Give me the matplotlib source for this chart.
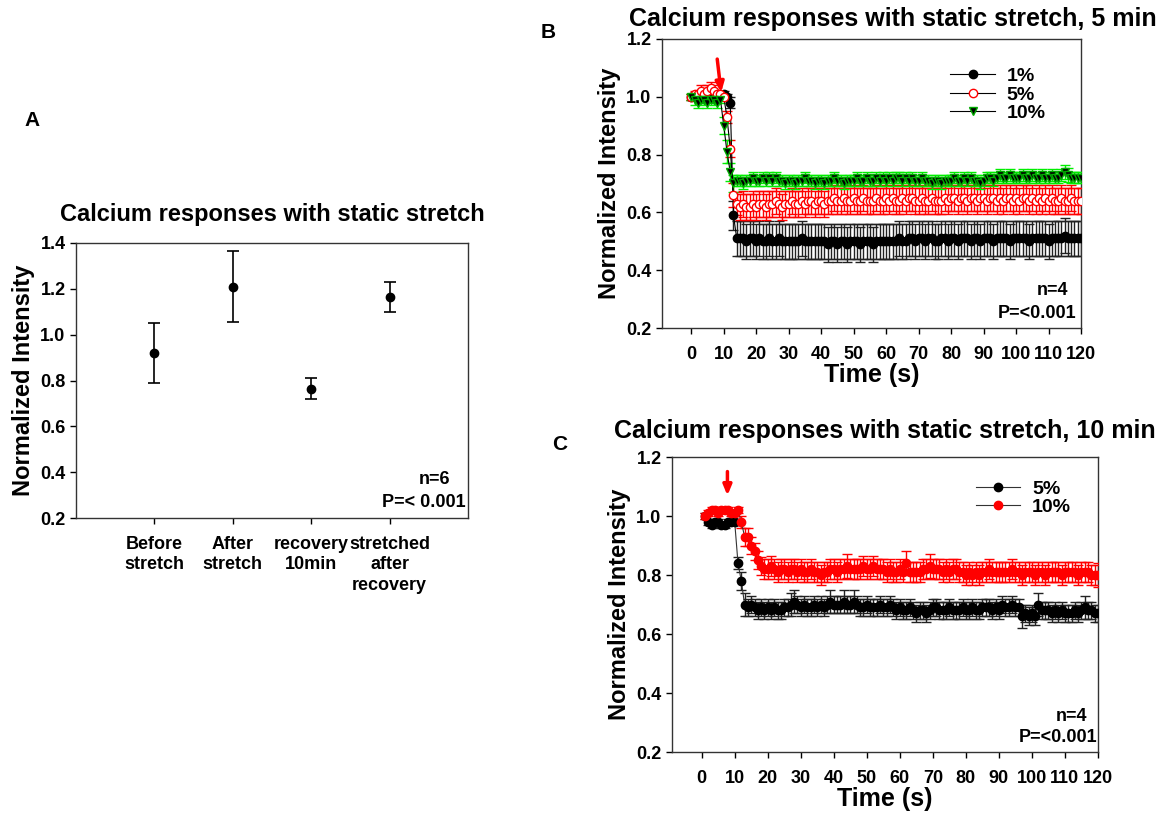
import numpy as np
import matplotlib
matplotlib.use('Agg')
import matplotlib.pyplot as plt

plt.rcParams['font.family'] = ['Liberation Sans', 'DejaVu Sans']
plt.rcParams['font.weight'] = 'bold'
plt.rcParams['axes.labelweight'] = 'bold'
plt.rcParams['axes.titleweight'] = 'bold'

# ---- panel A data ----
a_labels = ['Before\nstretch', 'After\nstretch', 'recovery\n10min', 'stretched\nafter\nrecovery']
a_mean = [0.92, 1.21, 0.765, 1.163]
a_err = [0.13, 0.155, 0.047, 0.065]

# ---- panel B data (5 min static stretch), t = 0..120 s ----
b_time = np.arange(0, 121)
b_1pct = [1.00, 1.00, 1.01, 1.00, 1.01, 1.01, 1.00, 1.01, 1.01, 1.00,
          1.01, 1.00, 0.98, 0.59, 0.51, 0.51, 0.51, 0.50, 0.51, 0.51,
          0.50, 0.51, 0.50, 0.50, 0.51, 0.50, 0.50, 0.51, 0.50, 0.50,
          0.50, 0.50, 0.50, 0.50, 0.51, 0.50, 0.50, 0.50, 0.50, 0.50,
          0.50, 0.50, 0.49, 0.50, 0.50, 0.49, 0.50, 0.50, 0.49, 0.50,
          0.50, 0.50, 0.49, 0.50, 0.50, 0.50, 0.49, 0.50, 0.50, 0.50,
          0.50, 0.50, 0.50, 0.50, 0.51, 0.50, 0.50, 0.51, 0.51, 0.50,
          0.51, 0.51, 0.50, 0.51, 0.51, 0.50, 0.50, 0.51, 0.51, 0.50,
          0.51, 0.51, 0.50, 0.51, 0.51, 0.51, 0.50, 0.51, 0.51, 0.50,
          0.51, 0.51, 0.51, 0.50, 0.51, 0.51, 0.51, 0.51, 0.50, 0.51,
          0.51, 0.51, 0.51, 0.51, 0.50, 0.51, 0.51, 0.51, 0.51, 0.51,
          0.50, 0.51, 0.51, 0.51, 0.51, 0.52, 0.51, 0.51, 0.51, 0.51,
          0.51]
b_1pct_err = [0.01, 0.01, 0.01, 0.01, 0.01, 0.01, 0.01, 0.01, 0.01, 0.01,
              0.01, 0.01, 0.02, 0.05, 0.06, 0.06, 0.06, 0.06, 0.06, 0.06,
              0.06, 0.06, 0.06, 0.06, 0.06, 0.06, 0.06, 0.06, 0.06, 0.06,
              0.06, 0.06, 0.06, 0.06, 0.06, 0.06, 0.06, 0.06, 0.06, 0.06,
              0.06, 0.06, 0.06, 0.06, 0.06, 0.06, 0.06, 0.06, 0.06, 0.06,
              0.06, 0.06, 0.06, 0.06, 0.06, 0.06, 0.06, 0.06, 0.06, 0.06,
              0.06, 0.06, 0.06, 0.06, 0.06, 0.06, 0.06, 0.06, 0.06, 0.06,
              0.06, 0.06, 0.06, 0.06, 0.06, 0.06, 0.06, 0.06, 0.06, 0.06,
              0.06, 0.06, 0.06, 0.06, 0.06, 0.06, 0.06, 0.06, 0.06, 0.06,
              0.06, 0.06, 0.06, 0.06, 0.06, 0.06, 0.06, 0.06, 0.06, 0.06,
              0.06, 0.06, 0.06, 0.06, 0.06, 0.06, 0.06, 0.06, 0.06, 0.06,
              0.06, 0.06, 0.06, 0.06, 0.06, 0.06, 0.06, 0.06, 0.06, 0.06,
              0.06]
b_5pct = [1.00, 1.01, 1.01, 1.02, 1.01, 1.02, 1.03, 1.02, 1.01, 1.01,
          1.00, 0.93, 0.82, 0.66, 0.63, 0.62, 0.63, 0.62, 0.62, 0.63,
          0.62, 0.63, 0.63, 0.62, 0.63, 0.63, 0.64, 0.63, 0.62, 0.63,
          0.63, 0.64, 0.63, 0.63, 0.64, 0.63, 0.64, 0.64, 0.63, 0.64,
          0.64, 0.63, 0.64, 0.64, 0.65, 0.64, 0.64, 0.65, 0.64, 0.64,
          0.65, 0.64, 0.64, 0.65, 0.64, 0.64, 0.64, 0.65, 0.64, 0.64,
          0.65, 0.64, 0.65, 0.64, 0.64, 0.65, 0.64, 0.65, 0.65, 0.64,
          0.64, 0.65, 0.64, 0.64, 0.65, 0.64, 0.64, 0.64, 0.65, 0.64,
          0.65, 0.65, 0.64, 0.65, 0.65, 0.64, 0.65, 0.65, 0.64, 0.65,
          0.65, 0.64, 0.65, 0.65, 0.64, 0.65, 0.64, 0.65, 0.65, 0.64,
          0.65, 0.64, 0.65, 0.65, 0.64, 0.65, 0.64, 0.65, 0.64, 0.65,
          0.64, 0.65, 0.64, 0.64, 0.65, 0.64, 0.64, 0.65, 0.64, 0.64,
          0.64]
b_5pct_err = [0.01, 0.01, 0.01, 0.02, 0.01, 0.02, 0.02, 0.02, 0.01, 0.01,
              0.01, 0.02, 0.03, 0.04, 0.04, 0.045, 0.045, 0.045, 0.045, 0.045,
              0.045, 0.045, 0.045, 0.045, 0.045, 0.045, 0.045, 0.045, 0.045, 0.045,
              0.045, 0.045, 0.045, 0.045, 0.045, 0.045, 0.045, 0.045, 0.045, 0.045,
              0.045, 0.045, 0.045, 0.045, 0.045, 0.045, 0.045, 0.045, 0.045, 0.045,
              0.045, 0.045, 0.045, 0.045, 0.045, 0.045, 0.045, 0.045, 0.045, 0.045,
              0.045, 0.045, 0.045, 0.045, 0.045, 0.045, 0.045, 0.045, 0.045, 0.045,
              0.045, 0.045, 0.045, 0.045, 0.045, 0.045, 0.045, 0.045, 0.045, 0.045,
              0.045, 0.045, 0.045, 0.045, 0.045, 0.045, 0.045, 0.045, 0.045, 0.045,
              0.045, 0.045, 0.045, 0.045, 0.045, 0.045, 0.045, 0.045, 0.045, 0.045,
              0.045, 0.045, 0.045, 0.045, 0.045, 0.045, 0.045, 0.045, 0.045, 0.045,
              0.045, 0.045, 0.045, 0.045, 0.045, 0.045, 0.045, 0.045, 0.045, 0.045,
              0.045]
b_10pct = [1.00, 0.99, 0.98, 0.99, 0.99, 0.98, 0.99, 0.99, 0.98, 0.99,
           0.90, 0.81, 0.74, 0.70, 0.71, 0.71, 0.70, 0.71, 0.71, 0.72,
           0.71, 0.71, 0.72, 0.71, 0.72, 0.71, 0.72, 0.71, 0.71, 0.70,
           0.71, 0.71, 0.70, 0.71, 0.71, 0.72, 0.71, 0.71, 0.70, 0.71,
           0.71, 0.70, 0.71, 0.71, 0.72, 0.71, 0.71, 0.70, 0.71, 0.71,
           0.71, 0.72, 0.71, 0.71, 0.72, 0.71, 0.71, 0.72, 0.71, 0.72,
           0.71, 0.72, 0.71, 0.72, 0.72, 0.71, 0.72, 0.71, 0.72, 0.71,
           0.71, 0.72, 0.71, 0.71, 0.70, 0.71, 0.71, 0.70, 0.71, 0.71,
           0.71, 0.72, 0.71, 0.71, 0.72, 0.71, 0.72, 0.71, 0.71, 0.70,
           0.71, 0.72, 0.72, 0.71, 0.72, 0.73, 0.72, 0.72, 0.73, 0.72,
           0.72, 0.72, 0.73, 0.72, 0.72, 0.73, 0.72, 0.72, 0.73, 0.72,
           0.72, 0.73, 0.72, 0.72, 0.73, 0.74, 0.73, 0.72, 0.72, 0.72,
           0.72]
b_10pct_err = [0.01, 0.02, 0.02, 0.01, 0.02, 0.02, 0.01, 0.02, 0.02, 0.01,
               0.03, 0.04, 0.03, 0.03, 0.02, 0.02, 0.02, 0.02, 0.02, 0.02,
               0.02, 0.02, 0.02, 0.02, 0.02, 0.02, 0.02, 0.02, 0.02, 0.02,
               0.02, 0.02, 0.02, 0.02, 0.02, 0.02, 0.02, 0.02, 0.02, 0.02,
               0.02, 0.02, 0.02, 0.02, 0.02, 0.02, 0.02, 0.02, 0.02, 0.02,
               0.02, 0.02, 0.02, 0.02, 0.02, 0.02, 0.02, 0.02, 0.02, 0.02,
               0.02, 0.02, 0.02, 0.02, 0.02, 0.02, 0.02, 0.02, 0.02, 0.02,
               0.02, 0.02, 0.02, 0.02, 0.02, 0.02, 0.02, 0.02, 0.02, 0.02,
               0.02, 0.02, 0.02, 0.02, 0.02, 0.02, 0.02, 0.02, 0.02, 0.02,
               0.02, 0.02, 0.02, 0.02, 0.02, 0.02, 0.02, 0.02, 0.02, 0.02,
               0.02, 0.02, 0.02, 0.02, 0.02, 0.02, 0.02, 0.02, 0.02, 0.02,
               0.02, 0.02, 0.02, 0.02, 0.02, 0.025, 0.025, 0.02, 0.02, 0.02,
               0.02]

# ---- panel C data (10 min static stretch), t = 1..120 s ----
c_time = np.arange(1, 121)
c_5pct = [1.00, 0.98, 0.97, 0.98, 0.98, 0.97, 0.97, 0.98, 0.98, 0.98,
          0.84, 0.78, 0.70, 0.69, 0.70, 0.69, 0.68, 0.69, 0.68, 0.69,
          0.68, 0.69, 0.68, 0.68, 0.69, 0.69, 0.70, 0.71, 0.70, 0.69,
          0.70, 0.69, 0.69, 0.70, 0.69, 0.70, 0.69, 0.70, 0.71, 0.70,
          0.70, 0.70, 0.71, 0.70, 0.70, 0.71, 0.70, 0.69, 0.69, 0.70,
          0.69, 0.69, 0.69, 0.70, 0.69, 0.69, 0.70, 0.69, 0.68, 0.69,
          0.68, 0.68, 0.69, 0.68, 0.67, 0.68, 0.68, 0.67, 0.68, 0.69,
          0.69, 0.68, 0.68, 0.68, 0.69, 0.68, 0.68, 0.68, 0.69, 0.68,
          0.68, 0.69, 0.68, 0.68, 0.69, 0.69, 0.69, 0.68, 0.69, 0.68,
          0.70, 0.69, 0.69, 0.70, 0.69, 0.69, 0.66, 0.67, 0.66, 0.67,
          0.66, 0.70, 0.68, 0.68, 0.68, 0.67, 0.68, 0.67, 0.68, 0.67,
          0.67, 0.67, 0.68, 0.67, 0.68, 0.69, 0.68, 0.68, 0.67, 0.67]
c_5pct_err = [0.01, 0.01, 0.01, 0.01, 0.01, 0.01, 0.01, 0.01, 0.01, 0.01,
              0.02, 0.03, 0.04, 0.03, 0.03, 0.03, 0.03, 0.03, 0.03, 0.03,
              0.03, 0.03, 0.03, 0.03, 0.03, 0.03, 0.04, 0.04, 0.03, 0.03,
              0.03, 0.03, 0.03, 0.03, 0.03, 0.03, 0.03, 0.03, 0.04, 0.03,
              0.03, 0.03, 0.04, 0.03, 0.03, 0.04, 0.03, 0.03, 0.03, 0.03,
              0.03, 0.03, 0.03, 0.03, 0.03, 0.03, 0.03, 0.03, 0.03, 0.03,
              0.03, 0.03, 0.03, 0.03, 0.03, 0.03, 0.03, 0.03, 0.03, 0.03,
              0.03, 0.03, 0.03, 0.03, 0.03, 0.03, 0.03, 0.03, 0.03, 0.03,
              0.03, 0.03, 0.03, 0.03, 0.03, 0.03, 0.03, 0.03, 0.03, 0.03,
              0.03, 0.03, 0.03, 0.03, 0.03, 0.03, 0.04, 0.03, 0.03, 0.03,
              0.03, 0.04, 0.03, 0.03, 0.03, 0.03, 0.03, 0.03, 0.03, 0.03,
              0.03, 0.03, 0.03, 0.03, 0.03, 0.04, 0.03, 0.03, 0.03, 0.03]
c_10pct = [1.00, 1.01, 1.02, 1.02, 1.01, 1.02, 1.02, 1.02, 1.01, 1.01,
           1.02, 0.98, 0.93, 0.93, 0.90, 0.88, 0.85, 0.83, 0.82, 0.82,
           0.83, 0.82, 0.81, 0.82, 0.82, 0.81, 0.82, 0.82, 0.81, 0.82,
           0.81, 0.81, 0.82, 0.81, 0.81, 0.80, 0.81, 0.81, 0.82, 0.82,
           0.81, 0.82, 0.82, 0.83, 0.82, 0.82, 0.82, 0.82, 0.83, 0.82,
           0.82, 0.83, 0.82, 0.82, 0.82, 0.81, 0.82, 0.81, 0.81, 0.82,
           0.81, 0.84, 0.81, 0.81, 0.81, 0.81, 0.82, 0.82, 0.83, 0.82,
           0.82, 0.82, 0.81, 0.82, 0.81, 0.82, 0.82, 0.81, 0.81, 0.80,
           0.81, 0.80, 0.81, 0.80, 0.81, 0.81, 0.82, 0.81, 0.81, 0.81,
           0.81, 0.81, 0.81, 0.82, 0.81, 0.81, 0.80, 0.81, 0.81, 0.81,
           0.80, 0.81, 0.81, 0.80, 0.81, 0.81, 0.81, 0.81, 0.80, 0.81,
           0.81, 0.81, 0.81, 0.80, 0.81, 0.81, 0.81, 0.80, 0.80, 0.80]
c_10pct_err = [0.01, 0.01, 0.01, 0.01, 0.01, 0.01, 0.01, 0.01, 0.01, 0.01,
               0.01, 0.02, 0.03, 0.03, 0.03, 0.03, 0.03, 0.03, 0.035, 0.035,
               0.035, 0.035, 0.035, 0.035, 0.035, 0.035, 0.035, 0.035, 0.035, 0.035,
               0.035, 0.035, 0.035, 0.035, 0.035, 0.035, 0.035, 0.035, 0.035, 0.035,
               0.035, 0.035, 0.035, 0.04, 0.035, 0.035, 0.035, 0.035, 0.035, 0.035,
               0.035, 0.035, 0.035, 0.035, 0.035, 0.035, 0.035, 0.035, 0.035, 0.035,
               0.035, 0.04, 0.035, 0.035, 0.035, 0.035, 0.035, 0.035, 0.04, 0.035,
               0.035, 0.035, 0.035, 0.035, 0.035, 0.035, 0.035, 0.035, 0.035, 0.035,
               0.035, 0.035, 0.035, 0.035, 0.035, 0.035, 0.035, 0.035, 0.035, 0.035,
               0.035, 0.035, 0.035, 0.035, 0.035, 0.035, 0.035, 0.035, 0.035, 0.035,
               0.035, 0.035, 0.035, 0.035, 0.035, 0.035, 0.035, 0.035, 0.035, 0.035,
               0.035, 0.035, 0.035, 0.035, 0.035, 0.035, 0.035, 0.035, 0.035, 0.04]

time_ticks = np.arange(0, 121, 10)


def style_axes(ax):
    for s in ax.spines.values():
        s.set_linewidth(1.0)
        s.set_color('#333333')
    ax.tick_params(direction='out', length=4, width=1, labelsize=13,
                   top=False, right=False)


fig = plt.figure(figsize=(11.68, 8.19), dpi=100)

# ---------------- A ----------------
axA = fig.add_axes([0.0651, 0.3675, 0.3356, 0.3358])
axA.errorbar(range(1, 5), a_mean, yerr=a_err, fmt='o', color='black',
             ms=6, capsize=4, elinewidth=1.2, capthick=1.2)
axA.set_xlim(0, 5)
axA.set_ylim(0.2, 1.4)
axA.set_yticks(np.arange(0.2, 1.41, 0.2))
axA.set_yticklabels(['%.1f' % v for v in np.arange(0.2, 1.41, 0.2)])
axA.set_xticks(range(1, 5))
style_axes(axA)
axA.set_xticklabels(a_labels, fontsize=13, linespacing=1.25)
axA.tick_params(axis='x', pad=9)
axA.set_ylabel('Normalized Intensity', fontsize=17, labelpad=4)
axA.set_title('Calcium responses with static stretch', fontsize=17, pad=16)
axA.text(0.955, 0.14, 'n=6', transform=axA.transAxes, ha='right', va='center', fontsize=13)
axA.text(0.995, 0.055, 'P=< 0.001', transform=axA.transAxes, ha='right', va='center', fontsize=13)
fig.text(32 / 1168, 1 - 120 / 819, 'A', fontsize=15, ha='center', va='center')

# ---------------- B ----------------
axB = fig.add_axes([0.5668, 0.5995, 0.3587, 0.3529])
err_kw = dict(fmt='none', capsize=3.5, elinewidth=1.0, capthick=1.0)
axB.errorbar(b_time, b_1pct, yerr=b_1pct_err, ecolor='#222222', zorder=2, **err_kw)
axB.errorbar(b_time, b_5pct, yerr=b_5pct_err, ecolor='#ff0000', zorder=3, **err_kw)
axB.errorbar(b_time, b_10pct, yerr=b_10pct_err, ecolor='#00ee00', zorder=4, **err_kw)
axB.plot(b_time, b_1pct, '-o', color='black', lw=0.8, ms=6, label='1%', zorder=5)
axB.plot(b_time, b_5pct, '-o', color='black', lw=0.8, ms=6, mfc='white', mec='#ff0000',
         label='5%', zorder=6)
axB.plot(b_time, b_10pct, '-v', color='black', lw=0.8, ms=6, mfc='black', mec='#00aa00',
         label='10%', zorder=7)
axB.set_xlim(-9, 120)
axB.set_ylim(0.2, 1.2)
axB.set_xticks(time_ticks)
axB.set_yticks(np.arange(0.2, 1.21, 0.2))
axB.set_yticklabels(['%.1f' % v for v in np.arange(0.2, 1.21, 0.2)])
style_axes(axB)
axB.tick_params(axis='x', pad=9)
axB.set_xlabel('Time (s)', fontsize=18, labelpad=0)
axB.set_ylabel('Normalized Intensity', fontsize=17, labelpad=4)
axB.set_title('Calcium responses with static stretch, 5 min', fontsize=18, pad=9, x=0.55)
axB.legend(loc='upper left', bbox_to_anchor=(0.665, 0.935), frameon=False, fontsize=14,
           handlelength=2.3, handletextpad=0.6, labelspacing=0.05, borderpad=0)
axB.annotate('', xy=(9.3, 1.005), xytext=(7.9, 1.14),
             arrowprops=dict(arrowstyle='-|>,head_width=0.25,head_length=0.6',
                             color='#ff0000', lw=2.5))
axB.text(0.97, 0.13, 'n=4', transform=axB.transAxes, ha='right', va='center', fontsize=13)
axB.text(0.99, 0.05, 'P=<0.001', transform=axB.transAxes, ha='right', va='center', fontsize=13)
fig.text(548 / 1168, 1 - 33 / 819, 'B', fontsize=15, ha='center', va='center')

# ---------------- C ----------------
axC = fig.add_axes([0.5753, 0.0818, 0.3647, 0.3602])
axC.errorbar(c_time, c_5pct, yerr=c_5pct_err, ecolor='#222222', zorder=2, **err_kw)
axC.errorbar(c_time, c_10pct, yerr=c_10pct_err, ecolor='#ff0000', zorder=3, **err_kw)
axC.plot(c_time, c_5pct, '-o', color='#333333', lw=0.8, ms=6, mfc='black', mec='black',
         label='5%', zorder=5)
axC.plot(c_time, c_10pct, '-o', color='#333333', lw=0.8, ms=6, mfc='#ff0000', mec='#ff0000',
         label='10%', zorder=6)
axC.set_xlim(-9, 120)
axC.set_ylim(0.2, 1.2)
axC.set_xticks(time_ticks)
axC.set_yticks(np.arange(0.2, 1.21, 0.2))
axC.set_yticklabels(['%.1f' % v for v in np.arange(0.2, 1.21, 0.2)])
style_axes(axC)
axC.tick_params(axis='x', pad=9)
axC.set_xlabel('Time (s)', fontsize=18, labelpad=0)
axC.set_ylabel('Normalized Intensity', fontsize=17, labelpad=4)
axC.set_title('Calcium responses with static stretch, 10 min', fontsize=18, pad=14)
axC.legend(loc='upper left', bbox_to_anchor=(0.69, 0.955), frameon=False, fontsize=14,
           handlelength=2.3, handletextpad=0.6, labelspacing=0.05, borderpad=0)
axC.annotate('', xy=(7.8, 1.06), xytext=(7.8, 1.16),
             arrowprops=dict(arrowstyle='-|>,head_width=0.25,head_length=0.6',
                             color='#ff0000', lw=2.5))
axC.text(0.975, 0.12, 'n=4', transform=axC.transAxes, ha='right', va='center', fontsize=13)
axC.text(0.998, 0.05, 'P=<0.001', transform=axC.transAxes, ha='right', va='center', fontsize=13)
fig.text(560 / 1168, 1 - 445 / 819, 'C', fontsize=15, ha='center', va='center')

fig.savefig('out.png', dpi=100)
